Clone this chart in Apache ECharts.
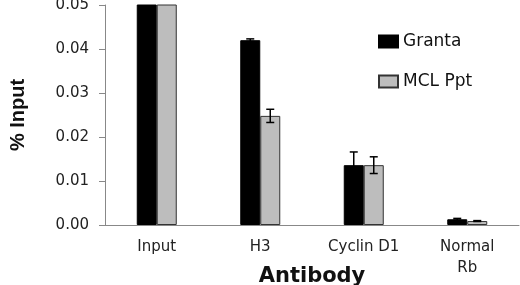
<!DOCTYPE html>
<html>
<head>
<meta charset="utf-8">
<script src="https://cdn.jsdelivr.net/npm/echarts@6/dist/echarts.min.js"></script>
<style>
  html, body { margin: 0; padding: 0; background: #fff; }
  #main { width: 520px; height: 285px; }
</style>
</head>
<body>
<div id="main"></div>
<script>
// 数据
const categories = ["Input", "H3", "Cyclin D1", "Normal\nRb"];
const granta = [0.06, 0.042, 0.0136, 0.0013];
const grantaErr = [0, 0.0003, 0.003, 0.0002];
const mclPpt = [0.06, 0.0248, 0.0136, 0.0009];
const mclPptErr = [0, 0.0015, 0.0019, 0.0001];
const yTicks = [0, 0.01, 0.02, 0.03, 0.04, 0.05];

const chart = echarts.init(document.getElementById("main"));

// 误差线
function errorBar(values, errs, offset) {
  return function (params, api) {
    const i = api.value(0);
    const v = values[i], e = errs[i];
    if (!e) return null;
    const hi = api.coord([i, v + e]);
    const lo = api.coord([i, v - e]);
    const x = hi[0] + offset;
    const style = { stroke: "#000", lineWidth: 1.5 };
    return {
      type: "group",
      children: [
        { type: "line", shape: { x1: x, y1: hi[1], x2: x, y2: lo[1] }, style: style },
        { type: "line", shape: { x1: x - 4, y1: hi[1], x2: x + 4, y2: hi[1] }, style: style },
        { type: "line", shape: { x1: x - 4, y1: lo[1], x2: x + 4, y2: lo[1] }, style: style },
      ],
    };
  };
}

chart.setOption({
  animation: false,
  textStyle: { fontFamily: "DejaVu Sans" },
  legend: {
    orient: "vertical",
    left: 373,
    top: 28,
    icon: "rect",
    itemWidth: 19,
    itemHeight: 12,
    itemGap: 23,
    textStyle: { fontSize: 17, color: "#111", fontFamily: "DejaVu Sans" },
    data: ["Granta", "MCL Ppt"],
  },
  grid: { left: 105, right: 1, top: 5, bottom: 60, outerBoundsMode: "none" },
  xAxis: {
    type: "category",
    data: categories,
    name: "Antibody",
    nameLocation: "middle",
    nameGap: 41,
    nameMoveOverlap: false,
    nameTextStyle: { fontSize: 21, fontWeight: "bold", color: "#111", fontFamily: "DejaVu Sans" },
    axisLine: { lineStyle: { color: "#888", width: 1 } },
    axisTick: { show: false },
    axisLabel: { fontSize: 15, color: "#222", margin: 12, lineHeight: 21 },
  },
  yAxis: {
    type: "value",
    min: 0,
    max: 0.05,
    interval: 0.01,
    name: "% Input",
    nameLocation: "middle",
    nameRotate: 90,
    nameGap: 77,
    nameMoveOverlap: false,
    nameTextStyle: { fontSize: 20, fontWeight: "bold", color: "#111", fontFamily: "Liberation Sans" },
    axisLine: { show: true, lineStyle: { color: "#888", width: 1 } },
    axisTick: { show: true, length: 6, lineStyle: { color: "#888" } },
    splitLine: { show: false },
    axisLabel: {
      fontSize: 15,
      color: "#222",
      margin: 16,
      formatter: (v) => (yTicks.indexOf(Math.round(v * 100) / 100) >= 0 ? v.toFixed(2) : ""),
    },
  },
  series: [
    {
      name: "Granta",
      type: "bar",
      barWidth: 20,
      barGap: "0%",
      itemStyle: { color: "#000", borderColor: "#000", borderWidth: 1 },
      data: granta,
    },
    {
      name: "MCL Ppt",
      type: "bar",
      barWidth: 20,
      barGap: "0%",
      itemStyle: { color: "#bdbdbd", borderColor: "#333", borderWidth: 1 },
      data: mclPpt,
    },
    {
      type: "custom",
      renderItem: errorBar(granta, grantaErr, -10),
      data: categories.map((c, i) => [i]),
      z: 5,
    },
    {
      type: "custom",
      renderItem: errorBar(mclPpt, mclPptErr, 10),
      data: categories.map((c, i) => [i]),
      z: 5,
    },
  ],
});
</script>
</body>
</html>
